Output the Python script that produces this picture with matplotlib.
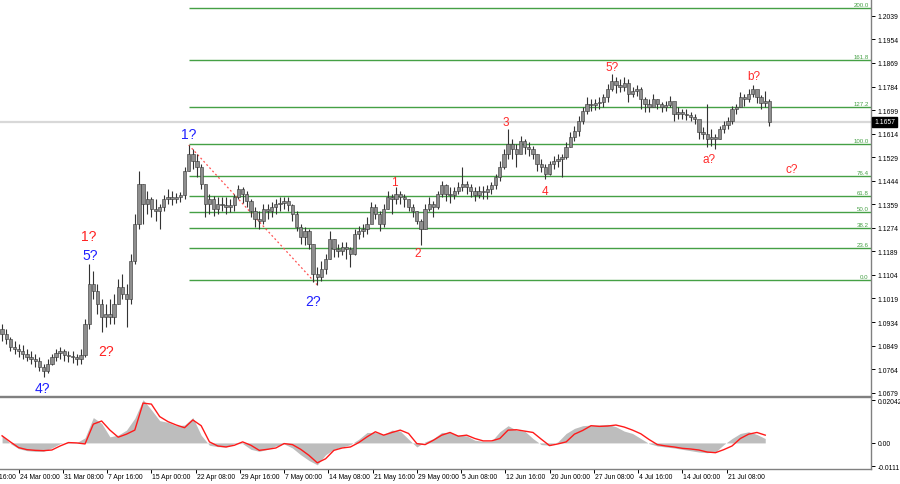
import matplotlib
matplotlib.use("Agg")
import matplotlib.pyplot as plt
import matplotlib.transforms as mtransforms
from matplotlib import font_manager as fm

# ---------------- data (EURUSD H4, one entry = 3 H4 bars) ----------------
closes = [
    1.0891, 1.0873, 1.0844, 1.0836, 1.0829, 1.0818, 1.0808, 1.0800, 1.0793, 1.0772,
    1.0757, 1.0782, 1.0808, 1.0822, 1.0829, 1.0815, 1.0811, 1.0808, 1.0800, 1.0815,
    1.0927, 1.1071, 1.1046, 1.0999, 1.0952, 1.0963, 1.0952, 1.0999, 1.1060, 1.1035,
    1.1017, 1.1154, 1.1288, 1.1432,
    1.1360, 1.1378, 1.1342, 1.1335, 1.1349, 1.1378, 1.1385, 1.1378, 1.1385, 1.1392,
    1.1479, 1.1540, 1.1515, 1.1494, 1.1432, 1.1360, 1.1378, 1.1342, 1.1360, 1.1356,
    1.1349, 1.1356, 1.1385, 1.1414, 1.1396, 1.1371, 1.1335, 1.1306, 1.1299, 1.1342,
    1.1335, 1.1349, 1.1360, 1.1364, 1.1371, 1.1356, 1.1324, 1.1277, 1.1241, 1.1262,
    1.1216, 1.1107, 1.1096, 1.1125, 1.1161, 1.1234, 1.1198, 1.1190, 1.1205, 1.1198,
    1.1180, 1.1252, 1.1262, 1.1270, 1.1288, 1.1349, 1.1324, 1.1288, 1.1342, 1.1385,
    1.1378, 1.1396, 1.1385, 1.1378, 1.1349, 1.1335, 1.1299, 1.1270, 1.1342, 1.1360,
    1.1349, 1.1396, 1.1429, 1.1396, 1.1392, 1.1407, 1.1421, 1.1432, 1.1421, 1.1407,
    1.1392, 1.1407, 1.1403, 1.1414, 1.1429, 1.1457, 1.1494, 1.1540, 1.1577, 1.1559,
    1.1540,
    1.1587, 1.1566, 1.1559, 1.1540, 1.1504, 1.1494, 1.1468, 1.1504, 1.1515, 1.1522,
    1.1530, 1.1566, 1.1602, 1.1623, 1.1660, 1.1696, 1.1721, 1.1717, 1.1725, 1.1728,
    1.1746, 1.1775, 1.1804, 1.1790, 1.1782, 1.1797, 1.1757, 1.1768, 1.1775, 1.1739,
    1.1721,
    1.1710, 1.1739, 1.1721, 1.1710, 1.1717, 1.1732, 1.1685, 1.1692, 1.1685, 1.1681,
    1.1674, 1.1667, 1.1620, 1.1613, 1.1595, 1.1602, 1.1595, 1.1631, 1.1645, 1.1660,
    1.1703, 1.1710, 1.1746, 1.1739, 1.1757, 1.1775, 1.1746, 1.1725, 1.1732, 1.1657,
]
highs = [
    1.0927, 1.0909, 1.0880, 1.0865, 1.0855, 1.0851, 1.0836, 1.0829, 1.0818, 1.0808,
    1.0782, 1.0800, 1.0818, 1.0836, 1.0844, 1.0836, 1.0829, 1.0829, 1.0818, 1.0836,
    1.0945, 1.1143, 1.1118, 1.1071, 1.1017, 1.0999, 1.1017, 1.1035, 1.1089, 1.1107,
    1.1071, 1.1180, 1.1324, 1.1479,
    1.1432, 1.1407, 1.1385, 1.1378, 1.1360, 1.1392, 1.1414, 1.1407, 1.1400, 1.1403,
    1.1494, 1.1573, 1.1559, 1.1540, 1.1504, 1.1432, 1.1396, 1.1389, 1.1385, 1.1385,
    1.1385, 1.1378, 1.1396, 1.1429, 1.1421, 1.1407, 1.1378, 1.1349, 1.1335, 1.1360,
    1.1360, 1.1367, 1.1378, 1.1385, 1.1385, 1.1385, 1.1360, 1.1335, 1.1288, 1.1277,
    1.1270, 1.1216, 1.1133, 1.1154, 1.1180, 1.1262, 1.1234, 1.1216, 1.1223, 1.1223,
    1.1205, 1.1270, 1.1281, 1.1288, 1.1313, 1.1367, 1.1360, 1.1335, 1.1360, 1.1407,
    1.1396, 1.1421, 1.1407, 1.1396, 1.1378, 1.1360, 1.1335, 1.1306, 1.1360, 1.1385,
    1.1371, 1.1407, 1.1443, 1.1432, 1.1421, 1.1421, 1.1439, 1.1494, 1.1443, 1.1432,
    1.1421, 1.1425, 1.1425, 1.1429, 1.1439, 1.1468, 1.1515, 1.1559, 1.1631, 1.1595,
    1.1577,
    1.1605, 1.1595, 1.1584, 1.1569, 1.1540, 1.1522, 1.1504, 1.1515, 1.1533, 1.1540,
    1.1540, 1.1584, 1.1620, 1.1642, 1.1678, 1.1710, 1.1746, 1.1739, 1.1739, 1.1746,
    1.1757, 1.1793, 1.1829, 1.1818, 1.1811, 1.1818, 1.1811, 1.1782, 1.1790, 1.1782,
    1.1746,
    1.1739, 1.1757, 1.1739, 1.1728, 1.1732, 1.1750, 1.1717, 1.1710, 1.1703, 1.1703,
    1.1692, 1.1685, 1.1660, 1.1638, 1.1721, 1.1631, 1.1613, 1.1642, 1.1660, 1.1674,
    1.1714, 1.1721, 1.1764, 1.1757, 1.1775, 1.1790, 1.1768, 1.1753, 1.1768, 1.1739,
]
lows = [
    1.0865, 1.0855, 1.0829, 1.0818, 1.0808, 1.0800, 1.0793, 1.0782, 1.0772, 1.0757,
    1.0735, 1.0750, 1.0779, 1.0793, 1.0800, 1.0793, 1.0790, 1.0786, 1.0779, 1.0782,
    1.0808, 1.0909, 1.1017, 1.0963, 1.0898, 1.0916, 1.0927, 1.0927, 1.0999, 1.1017,
    1.0916, 1.0999, 1.1143, 1.1270,
    1.1288, 1.1324, 1.1313, 1.1299, 1.1270, 1.1335, 1.1360, 1.1356, 1.1364, 1.1367,
    1.1378, 1.1479, 1.1486, 1.1457, 1.1414, 1.1313, 1.1324, 1.1317, 1.1324, 1.1335,
    1.1324, 1.1331, 1.1335, 1.1378, 1.1364, 1.1349, 1.1313, 1.1277, 1.1270, 1.1288,
    1.1306, 1.1313, 1.1324, 1.1335, 1.1342, 1.1335, 1.1299, 1.1262, 1.1216, 1.1212,
    1.1198, 1.1078, 1.1068, 1.1082, 1.1107, 1.1161, 1.1169, 1.1169, 1.1176, 1.1161,
    1.1133, 1.1176, 1.1234, 1.1241, 1.1252, 1.1306, 1.1306, 1.1262, 1.1277, 1.1342,
    1.1324, 1.1360, 1.1360, 1.1349, 1.1335, 1.1313, 1.1288, 1.1212, 1.1270, 1.1335,
    1.1313, 1.1342, 1.1385, 1.1371, 1.1364, 1.1378, 1.1396, 1.1407, 1.1396, 1.1385,
    1.1371, 1.1382, 1.1378, 1.1378, 1.1396, 1.1414, 1.1443, 1.1486, 1.1522, 1.1522,
    1.1494,
    1.1559, 1.1540, 1.1533, 1.1522, 1.1479, 1.1475, 1.1450, 1.1465, 1.1486, 1.1494,
    1.1457, 1.1522, 1.1566, 1.1587, 1.1605, 1.1649, 1.1685, 1.1696, 1.1699, 1.1703,
    1.1710, 1.1728, 1.1768, 1.1761, 1.1764, 1.1768, 1.1728, 1.1746, 1.1750, 1.1703,
    1.1692,
    1.1692, 1.1710, 1.1703, 1.1692, 1.1696, 1.1710, 1.1660, 1.1667, 1.1667, 1.1663,
    1.1660, 1.1649, 1.1595, 1.1595, 1.1566, 1.1569, 1.1559, 1.1595, 1.1616, 1.1631,
    1.1649, 1.1685, 1.1710, 1.1714, 1.1728, 1.1746, 1.1725, 1.1703, 1.1710, 1.1642,
]
first_open = 1.0909

# oscillator (one entry = 6 H4 bars)
macd_main = [
    0.00372, -0.00032, -0.00275, -0.00372, -0.00404, -0.00404, -0.00243, -0.00032, 0.00049, 0.00016,
    0.00243, 0.01213, 0.00938, 0.00291, 0.00372, 0.00614, 0.01180, 0.02070, 0.01585, 0.01067,
    0.00986, 0.00825, 0.00857, 0.01213, 0.00372, -0.00113, -0.00178, -0.00194, -0.00032, -0.00032,
    -0.00307, -0.00404, -0.00307, -0.00146, -0.00049, -0.00243, -0.00566, -0.00841, -0.01051, -0.00566,
    -0.00307, -0.00194, -0.00081, 0.00178, 0.00501, 0.00501, 0.00404, 0.00614, 0.00566, 0.00178,
    -0.00194, 0.00049, 0.00210, 0.00501, 0.00501, 0.00372, 0.00340, 0.00129, 0.00081, 0.00081,
    0.00534, 0.00825, 0.00614, 0.00566, 0.00210, -0.00081, -0.00113, 0.00049, 0.00453, 0.00695,
    0.00825, 0.00857, 0.00857, 0.00889, 0.00776, 0.00566, 0.00453, 0.00210, -0.00032, -0.00146,
    -0.00194, -0.00243, -0.00307, -0.00372, -0.00437, -0.00469, -0.00437, -0.00081, 0.00210, 0.00453,
    0.00534, 0.00404, 0.00210,
]
macd_signal = [
    0.00340, 0.00049, -0.00226, -0.00323, -0.00356, -0.00372, -0.00340, -0.00146, 0.00016, 0.00000,
    -0.00049, 0.00900, 0.01050, 0.00614, 0.00275, 0.00420, 0.00614, 0.01908, 0.01860, 0.01261,
    0.01019, 0.00857, 0.00728, 0.01100, 0.00825, 0.00049, -0.00146, -0.00194, -0.00113, 0.00049,
    -0.00113, -0.00356, -0.00307, -0.00243, -0.00032, -0.00081, -0.00307, -0.00598, -0.00954, -0.00760,
    -0.00356, -0.00243, -0.00194, 0.00016, 0.00291, 0.00534, 0.00372, 0.00501, 0.00614, 0.00453,
    -0.00032, -0.00081, 0.00129, 0.00372, 0.00501, 0.00323, 0.00372, 0.00210, 0.00097, 0.00097,
    0.00210, 0.00614, 0.00631, 0.00566, 0.00501, 0.00178, -0.00129, -0.00049, 0.00049, 0.00420,
    0.00598, 0.00825, 0.00792, 0.00809, 0.00857, 0.00760, 0.00614, 0.00437, 0.00162, -0.00081,
    -0.00146, -0.00194, -0.00259, -0.00291, -0.00340, -0.00437, -0.00469, -0.00323, -0.00146, 0.00210,
    0.00420, 0.00501, 0.00372,
]

fib_low = 1.1086
fib_high = 1.1577
fib_levels = [0.0, 23.6, 38.2, 50.0, 61.8, 76.4, 100.0, 127.2, 161.8, 200.0]

price_ticks = [1.2039, 1.1954, 1.1869, 1.1784, 1.1699, 1.1614, 1.1529, 1.1444, 1.1359,
               1.1274, 1.1189, 1.1104, 1.1019, 1.0934, 1.0849, 1.0764, 1.0679]
current_price = 1.1657
osc_ticks = [0.02042, 0.0, -0.0111]
osc_tick_labels = ["0.02042", "0.00", "-0.0111"]

date_labels = ["17 Mar 16:00", "24 Mar 00:00", "31 Mar 08:00", "7 Apr 16:00", "15 Apr 00:00",
               "22 Apr 08:00", "29 Apr 16:00", "7 May 00:00", "14 May 08:00", "21 May 16:00",
               "29 May 00:00", "5 Jun 08:00", "12 Jun 16:00", "20 Jun 00:00", "27 Jun 08:00",
               "4 Jul 16:00", "14 Jul 00:00", "21 Jul 08:00"]

# wave labels: text, H4 bar position, price, colour, size
waves = [
    ("4?", 30.4, 1.0696, "#1f1fff", 10), ("5?", 65.0, 1.1176, "#1f1fff", 10),
    ("1?", 63.6, 1.1244, "#ff2020", 10), ("2?", 76.0, 1.0829, "#ff2020", 10),
    ("1?", 136.0, 1.1613, "#1f1fff", 10), ("2?", 226.3, 1.1010, "#1f1fff", 10),
    ("1", 285.0, 1.1439, "#ff2a2a", 8.5), ("2", 301.5, 1.1183, "#ff2a2a", 8.5),
    ("3", 365.0, 1.1656, "#ff2a2a", 8.5), ("4", 394.0, 1.1407, "#ff2a2a", 8.5),
    ("5?", 442.5, 1.1855, "#ff2a2a", 8.5), ("a?", 512.6, 1.1522, "#ff2a2a", 8.5),
    ("b?", 544.5, 1.1822, "#ff2a2a", 8.5), ("c?", 572.0, 1.1486, "#ff2a2a", 8.5),
]

# ---------------- fonts ----------------
def font_ok(name):
    try:
        fm.findfont(fm.FontProperties(family=name), fallback_to_default=False)
        return True
    except Exception:
        return False

if font_ok("Liberation Sans Narrow"):
    small_font, small_size = ["Liberation Sans Narrow"], 5.8
else:
    small_font, small_size = ["Liberation Sans", "DejaVu Sans"], 4.9

# ---------------- drawing ----------------
H4_PER_BAR = 3
H4_PER_OSC = 6
x_bars = [H4_PER_BAR * i + 1 for i in range(len(closes))]
x_osc = [H4_PER_OSC * j + 1 for j in range(len(macd_main))]
opens = [first_open] + closes[:-1]
XMIN, XMAX = -0.5, 629.5

fig = plt.figure(figsize=(9, 4.85), dpi=100)
ax = fig.add_axes([0, 1 - 397 / 485, 871 / 900, 397 / 485])
ax2 = fig.add_axes([0, 1 - 470 / 485, 871 / 900, 72 / 485])

spine_col = "#808080"
for a in (ax, ax2):
    a.set_xlim(XMIN, XMAX)
    a.spines["left"].set_visible(False)
    for s in ("right", "bottom", "top"):
        a.spines[s].set_color(spine_col)
        a.spines[s].set_linewidth(1.0)
ax.spines["top"].set_visible(False)

ax.set_ylim(1.0667, 1.2100)

# current price line
ax.axhline(current_price, color="#d8d8d8", lw=1.6, zorder=1)

# fibonacci levels
fib_col = "#45a045"
rng = fib_high - fib_low
start_x = x_bars[45]
for lv in fib_levels:
    y = fib_low + lv / 100.0 * rng
    ax.hlines(y, start_x, XMAX, color=fib_col, lw=1.0, zorder=2)
    ax.text(627.8, y + 0.0003, f"{lv:.1f}", ha="right", va="bottom", fontsize=small_size - 0.5,
            color=fib_col, family=small_font, zorder=3)

# dotted line from wave 1? to 2?
ax.plot([x_bars[45], x_bars[76]], [highs[45], lows[76]], color="#ff5050",
        ls=(0, (1.5, 2)), lw=0.9, zorder=3)

# candles
ax.vlines(x_bars, lows, highs, color="#333333", lw=0.8, zorder=4)
bottoms = [min(o, c) for o, c in zip(opens, closes)]
heights = [max(abs(c - o), 0.00012) for o, c in zip(opens, closes)]
ax.bar(x_bars, heights, bottom=bottoms, width=2.4, color="#8e8e8e",
       edgecolor="#333333", linewidth=0.4, zorder=5)

# wave labels
for txt, xp, yp, col, fs in waves:
    ax.text(xp, yp, txt, color=col, fontsize=fs, ha="center", va="center",
            family=["Liberation Sans", "DejaVu Sans"], zorder=6)

# price axis on the right
ax.set_xticks([])
ax.yaxis.tick_right()
ax.set_yticks(price_ticks)
ax.set_yticklabels([f"{p:.4f}" for p in price_ticks], family=small_font)
ax.tick_params(axis="y", length=3, width=0.7, pad=1.5, labelsize=small_size, colors="black")

# current price box
tr = mtransforms.blended_transform_factory(ax.transAxes, ax.transData)
ax.text(1.0 + 3 / 871, current_price, f"{current_price:.4f}", transform=tr, ha="left",
        va="center", fontsize=small_size, color="white", family=small_font, zorder=10,
        clip_on=False, bbox=dict(boxstyle="square,pad=0.25", fc="black", ec="black"))

# oscillator
ax2.set_ylim(-0.0125, 0.0220)
ax2.fill_between(x_osc, 0, macd_main, color="#bdbdbd", lw=0, zorder=2)
ax2.plot(x_osc, macd_signal, color="#ff1a1a", lw=1.0, zorder=3)
ax2.yaxis.tick_right()
ax2.set_yticks(osc_ticks)
ax2.set_yticklabels(osc_tick_labels, family=small_font)
ax2.tick_params(axis="y", length=3, width=0.7, pad=1.5, labelsize=small_size, colors="black")

date_pos = [-19 + 32 * k for k in range(len(date_labels))]
ax2.set_xticks([p for p in date_pos if XMIN <= p <= XMAX])
ax2.set_xticklabels([])
ax2.tick_params(axis="x", length=3, width=0.7, colors="black")
trx = mtransforms.blended_transform_factory(ax2.transData, ax2.transAxes)
for p, lab in zip(date_pos, date_labels):
    ax2.text(p + 0.8, -0.06, lab, transform=trx, ha="left", va="top", fontsize=small_size,
             family=small_font, clip_on=False)

fig.savefig("out.png", dpi=100)
